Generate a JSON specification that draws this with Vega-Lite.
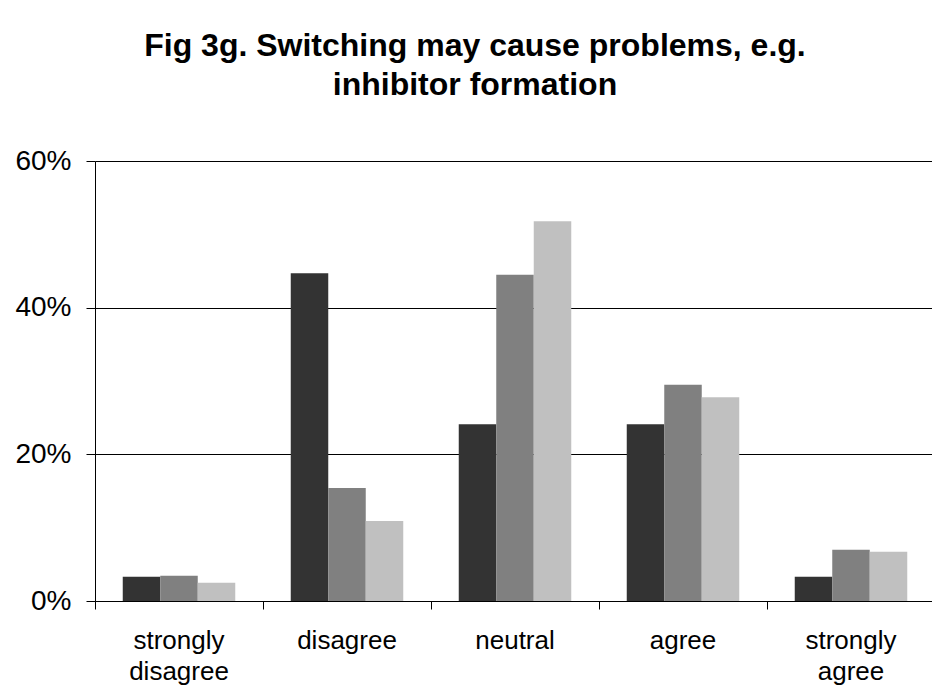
{
  "$schema": "https://vega.github.io/schema/vega-lite/v6.json",
  "autosize": {"type": "none"},
  "padding": {"left": 95, "top": 161, "right": 0, "bottom": 99},
  "width": 840,
  "height": 440,
  "background": "white",
  "title": {
    "text": ["Fig 3g. Switching may cause problems, e.g.", "inhibitor formation"],
    "font": "Liberation Sans",
    "fontSize": 32,
    "fontWeight": "bold",
    "color": "black",
    "lineHeight": 39,
    "anchor": "middle",
    "frame": "bounds",
    "offset": 45
  },
  "data": {
    "values": [
      {"response": "strongly disagree", "group": "A", "value": 0.033},
      {"response": "strongly disagree", "group": "B", "value": 0.0345},
      {"response": "strongly disagree", "group": "C", "value": 0.025},
      {"response": "disagree", "group": "A", "value": 0.447},
      {"response": "disagree", "group": "B", "value": 0.154},
      {"response": "disagree", "group": "C", "value": 0.109},
      {"response": "neutral", "group": "A", "value": 0.241},
      {"response": "neutral", "group": "B", "value": 0.445},
      {"response": "neutral", "group": "C", "value": 0.518},
      {"response": "agree", "group": "A", "value": 0.241},
      {"response": "agree", "group": "B", "value": 0.295},
      {"response": "agree", "group": "C", "value": 0.278},
      {"response": "strongly agree", "group": "A", "value": 0.033},
      {"response": "strongly agree", "group": "B", "value": 0.07},
      {"response": "strongly agree", "group": "C", "value": 0.067}
    ]
  },
  "mark": {"type": "bar"},
  "encoding": {
    "x": {
      "field": "response",
      "type": "nominal",
      "sort": ["strongly disagree", "disagree", "neutral", "agree", "strongly agree"],
      "scale": {"paddingInner": 0, "paddingOuter": 0},
      "axis": {
        "title": null,
        "labelAngle": 0,
        "labelExpr": "split(datum.label, ' ')",
        "labelFont": "Liberation Sans",
        "labelFontSize": 26,
        "labelColor": "black",
        "labelLineHeight": 31,
        "labelPadding": 18,
        "bandPosition": 0,
        "tickSize": 8,
        "tickColor": "black",
        "domainColor": "black",
        "grid": false
      }
    },
    "xOffset": {
      "field": "group",
      "type": "nominal",
      "scale": {"paddingInner": 0, "paddingOuter": 0.74}
    },
    "y": {
      "field": "value",
      "type": "quantitative",
      "scale": {"domain": [0, 0.6], "nice": false},
      "axis": {
        "title": null,
        "values": [0, 0.2, 0.4, 0.6],
        "format": ".0%",
        "labelFont": "Liberation Sans",
        "labelFontSize": 28,
        "labelColor": "black",
        "labelPadding": 15,
        "tickSize": 9,
        "tickColor": "black",
        "domainColor": "black",
        "grid": true,
        "gridColor": "black",
        "gridOpacity": 1
      }
    },
    "color": {
      "field": "group",
      "type": "nominal",
      "scale": {"domain": ["A", "B", "C"], "range": ["#333333", "#808080", "#C0C0C0"]},
      "legend": null
    }
  },
  "config": {"view": {"stroke": null}}
}
